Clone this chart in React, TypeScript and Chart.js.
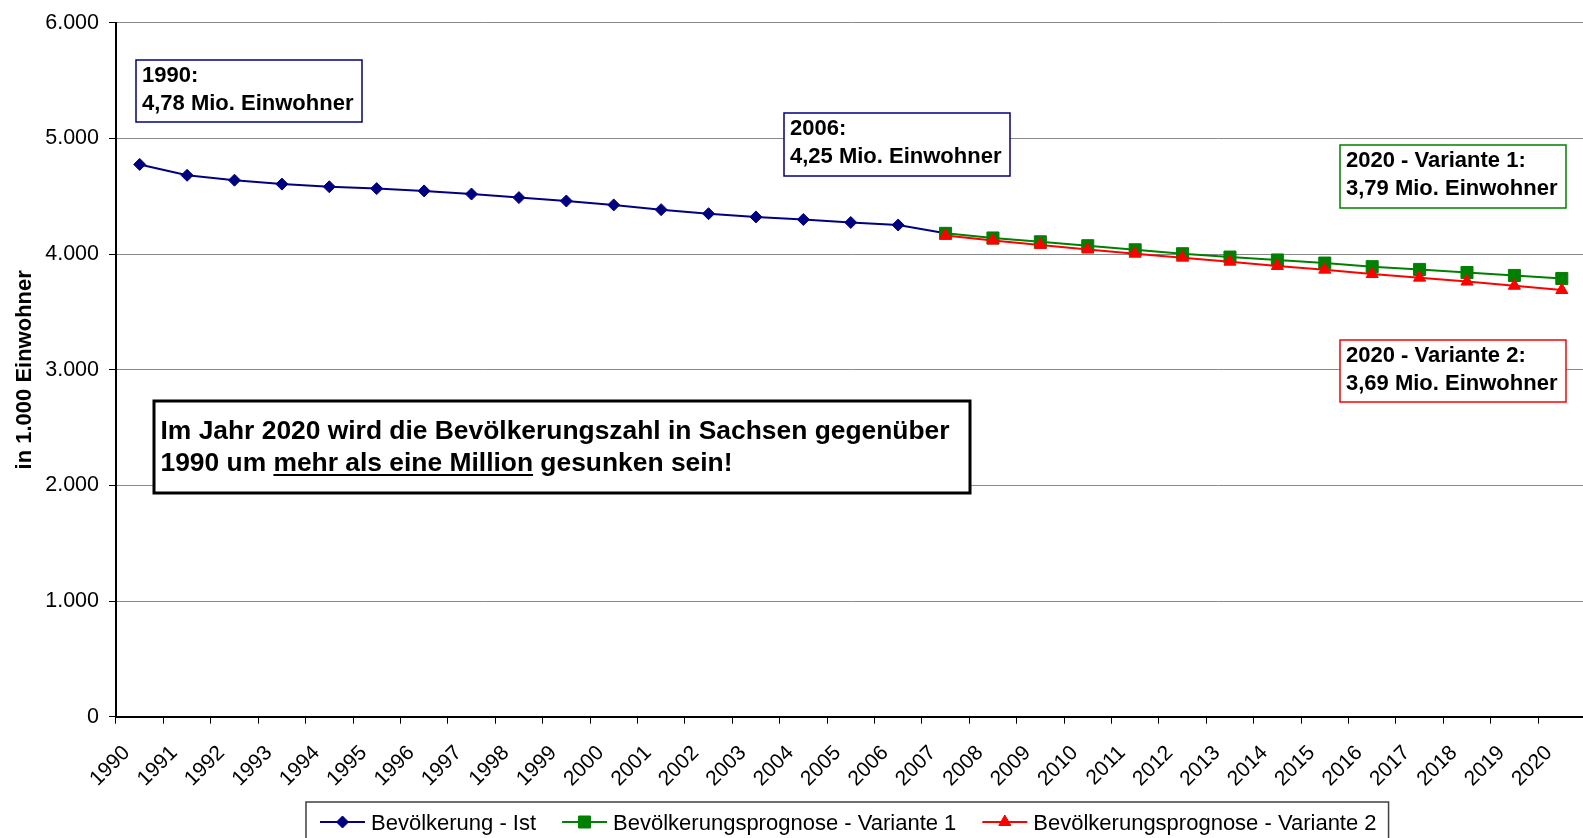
import React, { useEffect, useRef } from 'react';
import { Chart, registerables } from 'chart.js';

Chart.register(...registerables);

// ---------- data ----------
const years = [
  '1990', '1991', '1992', '1993', '1994', '1995', '1996', '1997', '1998', '1999',
  '2000', '2001', '2002', '2003', '2004', '2005', '2006', '2007', '2008', '2009',
  '2010', '2011', '2012', '2013', '2014', '2015', '2016', '2017', '2018', '2019', '2020',
];

// Bevölkerung - Ist (1990 - 2007), in 1.000
const istValues = [
  4776, 4682, 4640, 4606, 4583, 4567, 4547, 4520, 4489, 4460,
  4426, 4385, 4350, 4322, 4300, 4274, 4252, 4180,
];

// Prognose Variante 1 (2007 - 2020)
const variante1Values = [
  4180, 4140, 4107, 4073, 4038, 4004, 3975, 3950, 3923, 3892, 3868, 3841, 3816, 3790,
];

// Prognose Variante 2 (2007 - 2020)
const variante2Values = [
  4162, 4118, 4080, 4040, 4004, 3970, 3935, 3898, 3866, 3828, 3797, 3763, 3727, 3690,
];

const yTickLabels = ['0', '1.000', '2.000', '3.000', '4.000', '5.000', '6.000'];

const seriesNames = [
  'Bevölkerung - Ist',
  'Bevölkerungsprognose - Variante 1',
  'Bevölkerungsprognose - Variante 2',
];

const yAxisTitle = 'in 1.000 Einwohner';

const calloutTexts = [
  ['1990:', '4,78 Mio. Einwohner'],
  ['2006:', '4,25 Mio. Einwohner'],
  ['2020 - Variante 1:', '3,79 Mio. Einwohner'],
  ['2020 - Variante 2:', '3,69 Mio. Einwohner'],
];

const noteLine1 = 'Im Jahr 2020 wird die Bevölkerungszahl in Sachsen gegenüber';
const noteLine2Parts = ['1990 um ', 'mehr als eine Million', ' gesunken sein!'];

// ---------- styles ----------
const FONT = '"Liberation Sans", Arial, Helvetica, sans-serif';
const NAVY = '#000080';
const GREEN = '#008000';
const RED = '#ff0000';
const COLORS = [NAVY, GREEN, RED];

const CANVAS_W = 1595;
const CANVAS_H = 838;
const AXIS_BOTTOM = 716.7;

const istData = [...istValues, ...Array(years.length - istValues.length).fill(null)];
const v1Data = [...Array(years.length - variante1Values.length).fill(null), ...variante1Values];
const v2Data = [...Array(years.length - variante2Values.length).fill(null), ...variante2Values];

function drawMarker(ctx: CanvasRenderingContext2D, kind: number, x: number, y: number, color: string) {
  ctx.save();
  ctx.fillStyle = color;
  ctx.strokeStyle = color;
  ctx.lineWidth = 1;
  ctx.beginPath();
  if (kind === 0) {
    const r = 6;
    ctx.moveTo(x - r, y);
    ctx.lineTo(x, y - r);
    ctx.lineTo(x + r, y);
    ctx.lineTo(x, y + r);
  } else if (kind === 1) {
    const s = 6;
    ctx.rect(x - s, y - s, 2 * s, 2 * s);
  } else {
    const r = 7;
    ctx.moveTo(x, y - r);
    ctx.lineTo(x + r * Math.sin((2 * Math.PI) / 3), y + r / 2);
    ctx.lineTo(x - r * Math.sin((2 * Math.PI) / 3), y + r / 2);
  }
  ctx.closePath();
  ctx.fill();
  ctx.stroke();
  ctx.restore();
}

const calloutLayout = [
  { x: 136, y: 60, w: 226, h: 62, color: NAVY },
  { x: 784, y: 113, w: 226, h: 63, color: NAVY },
  { x: 1340, y: 145, w: 226, h: 63, color: GREEN },
  { x: 1340, y: 340, w: 226, h: 62, color: RED },
];

const overlayPlugin = {
  id: 'overlay',
  afterDraw(chart: any) {
    const ctx: CanvasRenderingContext2D = chart.ctx;
    ctx.save();
    ctx.textBaseline = 'alphabetic';
    ctx.textAlign = 'left';

    // callouts
    calloutLayout.forEach((b, i) => {
      ctx.fillStyle = '#fff';
      ctx.fillRect(b.x, b.y, b.w, b.h);
      ctx.strokeStyle = b.color;
      ctx.lineWidth = 1.5;
      ctx.strokeRect(b.x, b.y, b.w, b.h);
      ctx.fillStyle = '#000';
      ctx.font = `bold 22px ${FONT}`;
      ctx.fillText(calloutTexts[i][0], b.x + 6, b.y + 22);
      ctx.fillText(calloutTexts[i][1], b.x + 6, b.y + 50);
    });

    // note box
    ctx.fillStyle = '#fff';
    ctx.fillRect(154, 401, 816, 92);
    ctx.strokeStyle = '#000';
    ctx.lineWidth = 3;
    ctx.strokeRect(154, 401, 816, 92);
    ctx.fillStyle = '#000';
    ctx.font = `bold 26.4px ${FONT}`;
    const tx = 160.5;
    ctx.fillText(noteLine1, tx, 439);
    let cx = tx;
    noteLine2Parts.forEach((p, i) => {
      ctx.fillText(p, cx, 471);
      const w = ctx.measureText(p).width;
      if (i === 1) {
        ctx.beginPath();
        ctx.lineWidth = 2;
        ctx.moveTo(cx, 475);
        ctx.lineTo(cx + w, 475);
        ctx.stroke();
      }
      cx += w;
    });

    // legend
    ctx.font = `22px ${FONT}`;
    const ly = 822;
    let x = 320;
    const items: { lx: number; tx: number; w: number }[] = [];
    seriesNames.forEach((name) => {
      const w = ctx.measureText(name).width;
      items.push({ lx: x, tx: x + 51, w });
      x = x + 51 + w + 26;
    });
    const last = items[items.length - 1];
    const legendRight = last.tx + last.w + 12;
    ctx.fillStyle = '#fff';
    ctx.fillRect(306, 802, legendRight - 306, 60);
    ctx.strokeStyle = '#404040';
    ctx.lineWidth = 1.5;
    ctx.strokeRect(306, 802, legendRight - 306, 60);
    items.forEach((it, i) => {
      ctx.strokeStyle = COLORS[i];
      ctx.lineWidth = 2;
      ctx.beginPath();
      ctx.moveTo(it.lx, ly);
      ctx.lineTo(it.lx + 45, ly);
      ctx.stroke();
      drawMarker(ctx, i, it.lx + 22.5, ly, COLORS[i]);
      ctx.fillStyle = '#000';
      ctx.textBaseline = 'alphabetic';
      ctx.fillText(seriesNames[i], it.tx, 830);
    });

    ctx.restore();
  },
};

export default function App() {
  const ref = useRef<HTMLCanvasElement>(null);

  useEffect(() => {
    const canvas = ref.current;
    if (!canvas) return;
    const chart = new Chart(canvas, {
      type: 'line',
      data: {
        labels: years,
        datasets: [
          {
            label: seriesNames[0],
            data: istData,
            borderColor: NAVY,
            backgroundColor: NAVY,
            pointBackgroundColor: NAVY,
            pointBorderColor: NAVY,
            pointStyle: 'rectRot',
            pointRadius: 6,
            pointBorderWidth: 1,
            borderWidth: 2,
            tension: 0,
            fill: false,
            order: 3,
          },
          {
            label: seriesNames[1],
            data: v1Data,
            borderColor: GREEN,
            backgroundColor: GREEN,
            pointBackgroundColor: GREEN,
            pointBorderColor: GREEN,
            pointStyle: 'rect',
            pointRadius: 8.5,
            pointBorderWidth: 1,
            borderWidth: 2,
            tension: 0,
            fill: false,
            order: 2,
          },
          {
            label: seriesNames[2],
            data: v2Data,
            borderColor: RED,
            backgroundColor: RED,
            pointBackgroundColor: RED,
            pointBorderColor: RED,
            pointStyle: 'triangle',
            pointRadius: 7,
            pointBorderWidth: 1,
            borderWidth: 2,
            tension: 0,
            fill: false,
            order: 1,
          },
        ],
      },
      options: {
        responsive: false,
        animation: false,
        devicePixelRatio: 1,
        events: [],
        layout: { padding: { top: 19.5, left: 0, right: 0, bottom: 0 } },
        plugins: {
          legend: { display: false },
          tooltip: { enabled: false },
          title: { display: false },
        },
        scales: {
          x: {
            type: 'category',
            offset: true,
            grid: {
              display: true,
              drawOnChartArea: false,
              drawTicks: true,
              tickLength: 7,
              color: '#000',
              lineWidth: 1,
              offset: true,
            },
            border: { display: true, color: '#000', width: 2 },
            ticks: {
              autoSkip: false,
              maxRotation: 45,
              minRotation: 45,
              padding: 17,
              labelOffset: -13,
              color: '#000',
              font: { family: FONT, size: 21 },
            },
            afterFit: (s: any) => {
              s.height = CANVAS_H - AXIS_BOTTOM;
              s.paddingLeft = 0;
              s.paddingRight = 0;
            },
          },
          y: {
            type: 'linear',
            min: 0,
            max: 6000,
            ticks: {
              stepSize: 1000,
              padding: 10,
              color: '#000',
              font: { family: FONT, size: 21.5 },
              callback: (_v: any, i: number) => yTickLabels[i],
            },
            grid: {
              color: '#8a8a8a',
              lineWidth: 1,
              tickColor: '#000',
              tickLength: 7,
              drawTicks: true,
            },
            border: { display: true, color: '#000', width: 2 },
            title: {
              display: true,
              text: yAxisTitle,
              color: '#000',
              font: { family: FONT, size: 22, weight: 'bold' },
              padding: { top: 12, bottom: 0 },
            },
            afterFit: (s: any) => {
              s.width = 116;
            },
          },
        },
      },
      plugins: [overlayPlugin],
    } as any);
    return () => chart.destroy();
  }, []);

  return (
    <div
      style={{
        position: 'absolute',
        left: 0,
        top: 0,
        width: 1583,
        height: CANVAS_H,
        overflow: 'hidden',
        background: '#fff',
      }}
    >
      <canvas
        ref={ref}
        width={CANVAS_W}
        height={CANVAS_H}
        style={{ display: 'block', width: CANVAS_W, height: CANVAS_H }}
      />
    </div>
  );
}
